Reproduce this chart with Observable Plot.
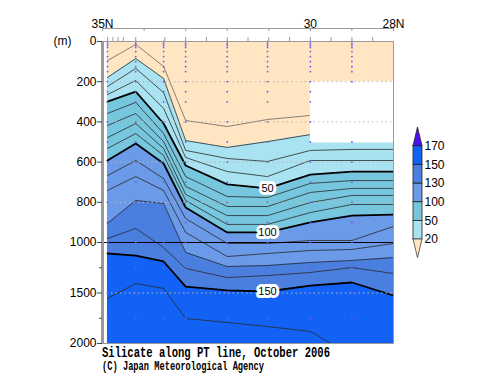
<!DOCTYPE html>
<html><head><meta charset="utf-8">
<script src="https://cdn.jsdelivr.net/npm/d3@7"></script>
<script src="https://cdn.jsdelivr.net/npm/@observablehq/plot@0.6"></script>
<style>
body{margin:0;background:#fff;}
#wrap{position:relative;width:500px;height:387px;overflow:hidden;font-family:"Liberation Sans",Arial,sans-serif;}
#main{position:absolute;left:0;top:0;}
#legend{position:absolute;left:400px;top:120px;}
#titles{position:absolute;left:0;top:343px;}
</style></head><body>
<div id="wrap">
<div id="main"></div>
<div id="legend"></div>
<svg id="titles" width="500" height="44">
<text x="102" y="13.5" font-family="Liberation Mono" font-size="15" font-weight="bold" textLength="228" lengthAdjust="spacingAndGlyphs">Silicate along PT line, October 2006</text>
<text x="102" y="27" font-family="Liberation Mono" font-size="12" font-weight="bold" textLength="162" lengthAdjust="spacingAndGlyphs">(C) Japan Meteorological Agency</text>
</svg>
</div>
<script>
// station latitudes (deg N)
const lat = [34.88, 34.2, 33.53, 33.0, 32.0, 31.03, 30.0, 29.0, 28.0];
// contour levels (umol/kg)
const levels = [10, 20, 30, 40, 50, 60, 70, 80, 90, 100, 110, 120, 130, 140, 150, 160];
// depth (m) of each isoline at each station
const d10  = [95, 15, 124, 393, 423, 388, 368, 383, 383];
const d20  = [179, 85, 184, 493, 527, 498, 463, 468, 468];
const d30  = [224, 134, 254, 542, 582, 597, 542, 537, 537];
const d40  = [264, 194, 333, 577, 647, 672, 592, 592, 592];
const d50  = [299, 249, 408, 617, 711, 731, 662, 647, 647];
const d60  = [358, 303, 458, 672, 771, 776, 706, 692, 692];
const d70  = [418, 358, 498, 721, 821, 821, 751, 731, 731];
const d80  = [478, 408, 532, 761, 866, 866, 801, 766, 766];
const d90  = [532, 458, 567, 791, 910, 910, 851, 811, 811];
const d100 = [592, 507, 607, 826, 950, 950, 900, 866, 861];
const d110 = [667, 592, 682, 881, 1010, 1010, 990, 990, 920];
const d120 = [741, 672, 741, 950, 1139, 1109, 1079, 1069, 1010];
const d130 = [905, 791, 806, 1099, 1238, 1228, 1198, 1178, 1149];
const d140 = [980, 930, 1050, 1257, 1347, 1327, 1297, 1248, 1307];
const d150 = [1109, 1129, 1188, 1436, 1475, 1485, 1426, 1396, 1525];
const d160 = [1554, 1406, 1455, 1752, 1792, 1832, 1881, 2120, 2250];
const isoDepths = [d10, d20, d30, d40, d50, d60, d70, d80, d90, d100, d110, d120, d130, d140, d150, d160];
const thickLevels = [50, 100, 150];
const bandLevels = [20, 50, 100, 130, 150];
const bandColors = ["#ffe5c2", "#a9e2f0", "#76c6dd", "#6a9ae8", "#4a7fe0", "#1262f5"];
const overColor = "#4b10f0";
const legendLabels = ["20", "50", "100", "130", "150", "170"];
const sampleDepths = [0, 10, 20, 30, 50, 75, 100, 125, 150, 200, 250, 300, 400, 500, 600, 700, 800, 900, 1000, 1250, 1500, 1750];
const sampledStations = [0, 1, 2, 3, 4, 5, 6, 7];
const yTicks = [0, 200, 400, 600, 800, 1000, 1500, 2000];
const yMinorTicks = [1250, 1750];
const gridDepths = [200, 400, 600, 800, 1500];
const latMajor = [35, 34, 33, 32, 31, 30, 29, 28];
const latMinor = [34.875, 34.75, 34.625, 34.5, 34.2, 33.5, 33, 32.5, 32, 31.5, 31, 30.5, 30, 29.5, 29, 28.5];
const latLabels = [{lat: 35, text: "35N"}, {lat: 30, text: "30"}, {lat: 28, text: "28N"}];
const missing = [{lat1: 30, lat2: 28, top: 200, bottom: 505}];

const isoRows = levels.flatMap((lv, k) => lat.map((x, i) => ({level: lv, lat: x, depth: isoDepths[k][i]})));
const surface = lat.map(x => ({lat: x, depth: 0}));
const sampleRows = sampledStations.flatMap(i => sampleDepths
  .filter(d => !(i === 7 && d > 200 && d < 500))
  .map(d => ({lat: lat[i], depth: d})));
const labelStation = 5;
const labelRows = thickLevels.map(lv => ({lat: lat[labelStation], depth: isoDepths[levels.indexOf(lv)][labelStation], text: String(lv)}));

const marks = [];
marks.push(Plot.areaY(surface, {x: "lat", y1: "depth", y2: 2000, fill: bandColors[0]}));
bandLevels.forEach((lv, j) => {
  marks.push(Plot.areaY(isoRows.filter(r => r.level === lv), {x: "lat", y1: "depth", y2: 2000, fill: bandColors[j + 1], clip: true}));
});
marks.push(Plot.line(isoRows.filter(r => r.level === 10), {x: "lat", y: "depth", z: "level", stroke: "#666", strokeWidth: 0.8, clip: true}));
marks.push(Plot.line(isoRows.filter(r => r.level > 10 && !thickLevels.includes(r.level)), {x: "lat", y: "depth", z: "level", stroke: "#2a2a2a", strokeWidth: 0.8, clip: true}));
marks.push(Plot.line(isoRows.filter(r => thickLevels.includes(r.level)), {x: "lat", y: "depth", z: "level", stroke: "#000", strokeWidth: 1.8, clip: true}));
marks.push(Plot.rect(missing, {x1: "lat1", x2: "lat2", y1: "top", y2: "bottom", fill: "white"}));
marks.push(Plot.ruleY(gridDepths, {stroke: "#b8b8b8", strokeDasharray: "1.5,3", strokeWidth: 1}));
marks.push(Plot.ruleY([1000], {stroke: "#000", strokeWidth: 1}));
marks.push(Plot.dot(sampleRows, {x: "lat", y: "depth", r: 0.9, fill: "#7058ee", stroke: "none"}));
marks.push(Plot.text(labelRows, {x: "lat", y: "depth", text: "text", fontSize: 11, fill: "#000", stroke: "white", strokeWidth: 6, paintOrder: "stroke"}));
marks.push(Plot.frame({stroke: "#9a9a9a"}));
marks.push(Plot.ruleX([35], {stroke: "#9a9a9a", strokeWidth: 3}));
marks.push(Plot.axisY({ticks: yTicks, tickSize: 5, tickPadding: 1, fontSize: 12, label: null, tickFormat: d => String(d), stroke: "#444"}));
marks.push(Plot.axisY({ticks: yMinorTicks, tickSize: 3, tickFormat: () => "", label: null, stroke: "#444"}));
marks.push(Plot.ruleY([0], {dy: -13, stroke: "#9a9a9a"}));
marks.push(Plot.ruleX(latMajor, {insetBottom: 299, dy: -13, stroke: "#9a9a9a"}));
marks.push(Plot.ruleX(latMinor, {insetBottom: 298, dy: -4, stroke: "#9a9a9a"}));
marks.push(Plot.text(latLabels, {x: "lat", text: "text", frameAnchor: "top", lineAnchor: "bottom", dy: -14, fontSize: 12}));
marks.push(Plot.text(["(m)"], {frameAnchor: "top-left", dx: -40, textAnchor: "middle", lineAnchor: "middle", fontSize: 12}));

const main = Plot.plot({
  width: 500, height: 352,
  marginTop: 41, marginBottom: 9, marginLeft: 102, marginRight: 107,
  style: {fontFamily: "Liberation Sans, Arial, sans-serif", background: "transparent", color: "#000"},
  x: {type: "linear", domain: [35, 28], axis: null},
  y: {type: "linear", domain: [0, 1000, 2000], range: [41, 242, 343]},
  marks
});
document.getElementById("main").appendChild(main);

// legend (vertical colour bar with end triangles)
const legendBoxes = legendLabels.slice(0, -1).map((t, i) => ({i, color: bandColors[i + 1]}));
const nL = legendLabels.length;
const triLow = [{x: 0, y1: 0, y2: 0}, {x: 0.5, y1: -1, y2: 0}, {x: 1, y1: 0, y2: 0}];
const triHigh = [{x: 0, y1: nL - 1, y2: nL - 1}, {x: 0.5, y1: nL - 1, y2: nL}, {x: 1, y1: nL - 1, y2: nL - 1}];
const legend = Plot.plot({
  width: 60, height: 145, margin: 0,
  style: {fontFamily: "Liberation Sans, Arial, sans-serif", background: "transparent", color: "#000"},
  x: {type: "linear", domain: [0, 1], range: [13, 22], axis: null},
  y: {type: "linear", domain: [-1, nL], range: [137.7, 7], axis: null},
  color: {type: "identity"},
  marks: [
    Plot.rect(legendBoxes, {x1: 0, x2: 1, y1: "i", y2: d => d.i + 1, fill: "color", stroke: "#222", strokeWidth: 0.8}),
    Plot.areaY(triLow, {x: "x", y1: "y1", y2: "y2", fill: bandColors[0], stroke: "#444", strokeWidth: 0.8}),
    Plot.areaY(triHigh, {x: "x", y1: "y1", y2: "y2", fill: overColor, stroke: "#222", strokeWidth: 0.8}),
    Plot.text(legendLabels, {x: 1, y: (d, i) => i, text: d => d, textAnchor: "start", dx: 2, fontSize: 12})
  ]
});
document.getElementById("legend").appendChild(legend);
</script>
</body></html>
